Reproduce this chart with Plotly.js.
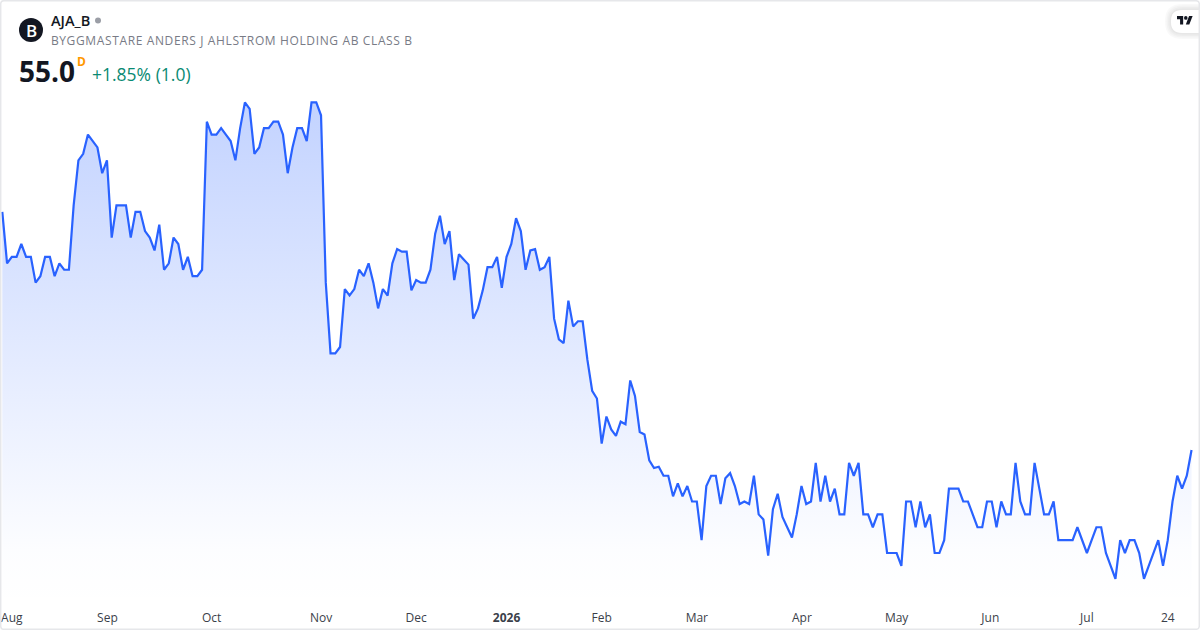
<!DOCTYPE html>
<html><head><meta charset="utf-8">
<script src="https://cdn.plot.ly/plotly-3.0.1.min.js"></script>
<style>html,body{margin:0;padding:0;background:#fff}#c{width:1200px;height:630px}
.annotation[data-index="2"] text{letter-spacing:0.63px}</style>
</head><body><div id="c"></div>
<script>
const pricesAugSep = [64.25,62.25,62.5,62.5,63,62.5,62.5,61.5,61.75,62.5,62.5,61.75,62.25,62,62,64.5,66.25,66.5,67.25,67,66.75,65.75,66.25,63.25,64.5,64.5,64.5,63.25,64.25,64.25,63.5,63.25,62.75,63.75,62,62.25,63.25,63,62,62.5,61.75,61.75,62];
const pricesOct = [67.75,67.25,67.25,67.5,67.25,67,66.25,67.5,68.5,68.25,66.5,66.75,67.5,67.5,67.75,67.75,67.25,65.75,66.75,67.5,67.5,67,68.5,68.5,68,61.5,58.75,58.75,59];
const pricesNovJan = [61.25,61,61.25,62,61.75,62.25,61.5,60.5,61.25,61,62.25,62.8,62.7,62.7,61.2,61.6,61.5,61.5,62,63.4,64.1,63,63.5,61.6,62.6,62.4,62.2,60.1,60.5,61.2,62.1,62.1,62.5,61.3,62.5,63,64,63.5,62,62.75,62.8,62,62.1,62.5,60.1,59.3,59.15,60.8,59.8,60,60,58.5,57.3,57,55.25,56.3,55.8,55.55,56.1,56,57.7,57.1,55.7,55.6,54.6,54.3,54.35];
const pricesMarMay = [54,54,53.2,53.7,53.2,53.6,53,53,51.5,53.6,54,54,52.9,53.9,54.1,53.6,52.9,53,52.9,54,52.5,52.3,50.9,52.7,53.3,52.4,52,51.6,52.5,53.6,52.9,53,54.5,53,54,53,53.5,52.5,52.5,54.5,54,54.5,52.5,52.5,52,52.5,52.5,51,51,51,50.5,53,53,52,53];
const pricesMayJul = [52,52.5,51,51,51.5,53.5,53.5,53.5,53,53,52.5,52,52,53,53,52,53,52.5,52.5,54.5,53,52.5,52.5,54.5,53.5,52.5,52.5,53,51.5,51.5,51.5,51.5,52,51.5,51,51.5,52,52,51,50.5,50,51.5,51,51.5,51.5,51,50,50.5,51,51.5,50.5,51.5,53,54,53.5,54,55];
const prices = [].concat(pricesAugSep,pricesOct,pricesNovJan,pricesMarMay,pricesMayJul);
const days = prices.map((_,i)=>i);
const tickDays = [2,22.1,44,67,87,106,126,146,168.1,188,207.7,228,245];
const tickLabels = ['Aug','Sep','Oct','Nov','Dec','<b>2026</b>','Feb','Mar','Apr','May','Jun','Jul','24'];

const W=1200,H=630,plotH=606;
const px=x=>x/W, py=y=>1-y/plotH;
const step=4.757, x0=2.3;
const xr=[-x0/step,(W-x0)/step];
const yAt=y=>55+(450-y)/25.75;
const FONT='"Open Sans", sans-serif';
const path=(s)=>s.replace(/(-?[\d.]+),(-?[\d.]+)/g,(m,a,b)=>px(+a)+','+py(+b));
function tab(grow){const l=1171-grow,t=10-grow,b=33+grow,r=1210,rad=11+grow;
  return path(`M${r},${t} L${l+rad},${t} Q${l},${t} ${l},${t+rad} L${l},${b-rad} Q${l},${b} ${l+rad},${b} L${r},${b} Z`);}
const lx=X=>1177+0.44*X, ly=Y=>16+0.47*(Y-4);
const shapes=[];
[6,4.5,3,1.5].forEach(g=>shapes.push({type:'path',xref:'paper',yref:'paper',path:tab(g),fillcolor:'rgba(0,0,0,0.022)',line:{width:0},layer:'above'}));
shapes.push({type:'path',xref:'paper',yref:'paper',path:tab(0),fillcolor:'#fff',line:{width:0},layer:'above'});
shapes.push({type:'path',xref:'paper',yref:'paper',fillcolor:'#131722',line:{width:0},layer:'above',
 path:path(`M${lx(14)},${ly(22)} L${lx(7)},${ly(22)} L${lx(7)},${ly(11)} L${lx(0)},${ly(11)} L${lx(0)},${ly(4)} L${lx(14)},${ly(4)} Z`)});
shapes.push({type:'path',xref:'paper',yref:'paper',fillcolor:'#131722',line:{width:0},layer:'above',
 path:path(`M${lx(28)},${ly(22)} L${lx(20)},${ly(22)} L${lx(27.5)},${ly(4)} L${lx(35.5)},${ly(4)} Z`)});
shapes.push({type:'circle',xref:'paper',yref:'paper',fillcolor:'#131722',line:{width:0},layer:'above',x0:px(lx(16)),x1:px(lx(24)),y0:py(ly(4)),y1:py(ly(12))});
shapes.push({type:'circle',xref:'paper',yref:'paper',fillcolor:'#131722',line:{width:0},x0:px(19),x1:px(43),y0:py(18),y1:py(42),layer:'above'});
shapes.push({type:'circle',xref:'paper',yref:'paper',fillcolor:'#9b9ea6',line:{width:0},x0:px(95),x1:px(101),y0:py(17.5),y1:py(23.5),layer:'above'});
shapes.push({type:'path',xref:'paper',yref:'paper',fillcolor:'rgba(0,0,0,0)',line:{color:'#e6e7ea',width:1.5},layer:'above',
 path:path(`M4,0.7 L1196,0.7 Q1199.3,0.7 1199.3,4 L1199.3,626 Q1199.3,629.3 1196,629.3 L4,629.3 Q0.7,629.3 0.7,626 L0.7,4 Q0.7,0.7 4,0.7 Z`)});

const note=(text,x,y,size,color,weight,extra)=>Object.assign({text,xref:'paper',yref:'paper',x:px(x),y:py(y),xanchor:'left',yanchor:'middle',showarrow:false,borderpad:0,borderwidth:0,font:{family:FONT,size,color,weight}},extra||{});
const annotations=[
 note('B',31,30.5,17,'#ffffff',600,{xanchor:'center'}),
 note('AJA_B',51,20.5,14.5,'#131722',600),
 note('BYGGMASTARE ANDERS J AHLSTROM HOLDING AB CLASS B',66,40.5,12,'#787b86',400),
 note('55.0',19,70.5,28,'#131722',700),
 note('D',77,61.5,12,'#ff9800',700),
 note('+1.85% (1.0)',92,74.5,17.5,'#0a8a73',400)
];
const trace={x:days,y:prices,type:'scatter',mode:'lines',line:{color:'#2962ff',width:2.2,shape:'linear'},
 fill:'tozeroy',hoverinfo:'skip',
 fillgradient:{type:'vertical',start:yAt(70),stop:yAt(606),
   colorscale:[[0,'rgba(41,98,255,0.3)'],[0.9,'rgba(41,98,255,0.012)'],[1,'rgba(41,98,255,0)']]}};
Plotly.newPlot('c',[trace],{
 width:W,height:H,margin:{l:0,r:0,t:0,b:H-plotH,pad:0},paper_bgcolor:'#fff',plot_bgcolor:'#fff',showlegend:false,
 font:{family:FONT},
 xaxis:{range:xr,tickmode:'array',tickvals:tickDays,ticktext:tickLabels,showgrid:false,zeroline:false,showline:false,ticks:'',tickangle:0,ticklabelstandoff:3,tickfont:{family:FONT,size:12,color:'#3b3f4a'},fixedrange:true},
 yaxis:{range:[yAt(606),yAt(0)],visible:false,showgrid:false,zeroline:false,fixedrange:true},
 shapes,annotations
},{displayModeBar:false,staticPlot:true});
</script></body></html>
